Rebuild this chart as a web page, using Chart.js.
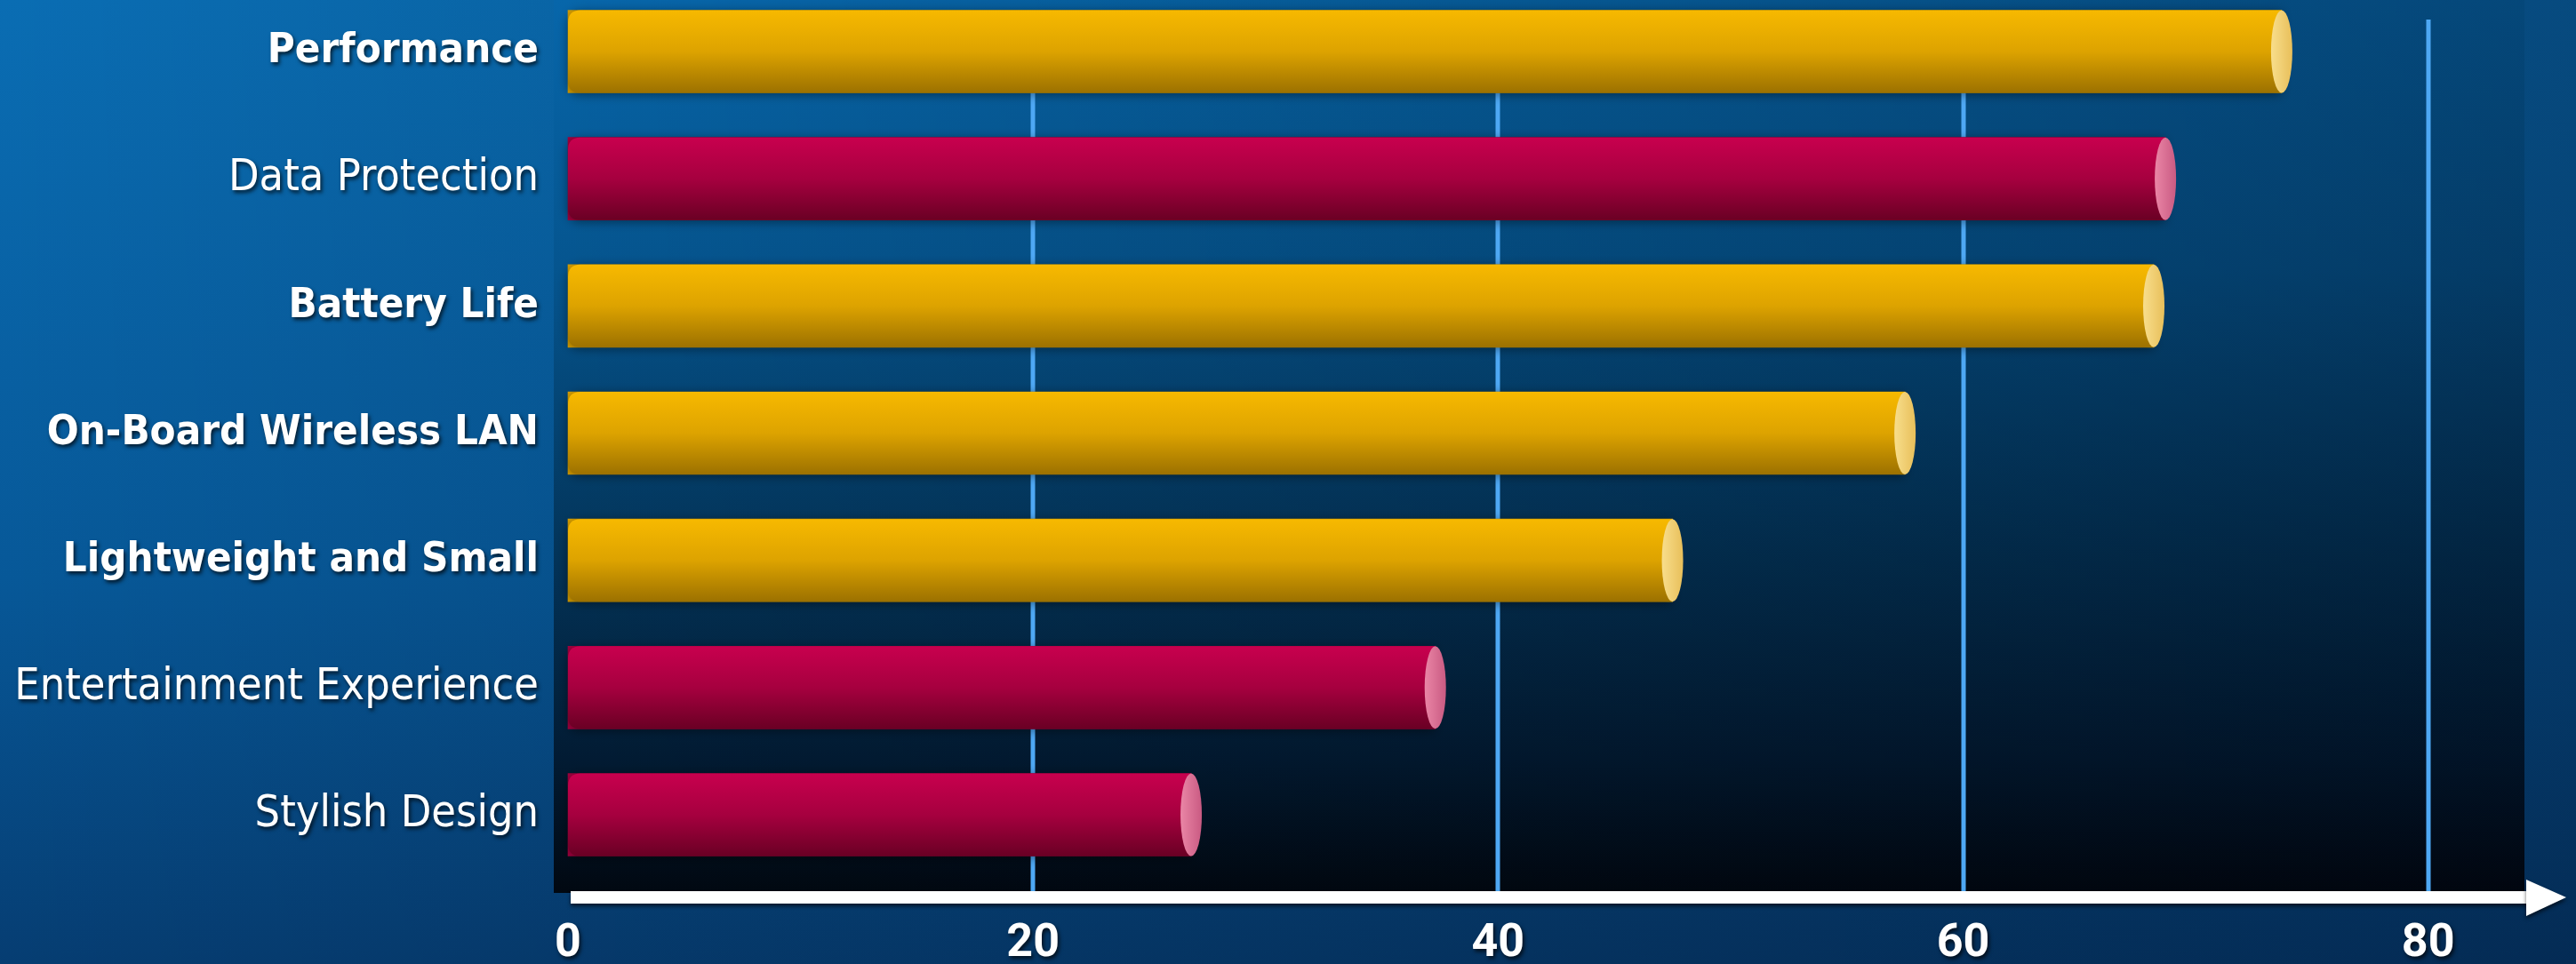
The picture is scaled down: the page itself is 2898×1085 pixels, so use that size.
<!DOCTYPE html>
<html>
<head>
<meta charset="utf-8">
<script src="https://cdn.jsdelivr.net/npm/chart.js@4.4.1/dist/chart.umd.min.js"></script>
<style>
  html, body { margin: 0; padding: 0; background: #0a5a98; }
  #wrap { width: 2898px; height: 1085px; }
</style>
</head>
<body>
<div id="wrap"><canvas id="c" width="2898" height="1085"></canvas></div>
<script>
// ---- data ----
const categories = ['Performance', 'Data Protection', 'Battery Life', 'On-Board Wireless LAN',
                    'Lightweight and Small', 'Entertainment Experience', 'Stylish Design'];
const scores = [73.7, 68.7, 68.2, 57.5, 47.5, 37.3, 26.8];
const highlighted = [true, false, true, true, true, false, false];
const xTickValues = [0, 20, 40, 60, 80];
const xMax = 84.14;

// ---- styles ----
const LABEL_FONT = '"DejaVu Sans Condensed", "Liberation Sans Narrow", Roboto, sans-serif';
const GOLD = { top: '#f7b900', mid: '#dda300', bot: '#9c7100', cap1: '#f8de8c', cap2: '#e8bf5a' };
const RED  = { top: '#c8004e', mid: '#a6003f', bot: '#6a0024', cap1: '#ea86a6', cap2: '#c95a82' };

const bgPlugin = {
  id: 'bg',
  beforeDraw(chart) {
    const ctx = chart.ctx, W = chart.width, H = chart.height;
    ctx.save();
    let g = ctx.createLinearGradient(0, 0, 0, H);
    g.addColorStop(0, '#0a6db3');
    g.addColorStop(0.6, '#075898');
    g.addColorStop(1, '#063d72');
    ctx.fillStyle = g;
    ctx.fillRect(0, 0, W, H);
    let gh = ctx.createLinearGradient(0, 0, W, 0);
    gh.addColorStop(0, 'rgba(0,0,0,0)');
    gh.addColorStop(1, 'rgba(0,10,30,0.35)');
    ctx.fillStyle = gh;
    ctx.fillRect(0, 0, W, H);
    // plot panel
    const px0 = 623, px1 = 2840, py1 = 1005;
    let gp = ctx.createLinearGradient(0, 0, 0, py1);
    gp.addColorStop(0, '#0766aa');
    gp.addColorStop(0.3, '#05558f');
    gp.addColorStop(0.62, '#033459');
    gp.addColorStop(0.85, '#021b33');
    gp.addColorStop(1, '#010811');
    ctx.fillStyle = gp;
    ctx.fillRect(px0, 0, px1 - px0, py1);
    let gph = ctx.createLinearGradient(px0, 0, px1, 0);
    gph.addColorStop(0, 'rgba(0,0,0,0)');
    gph.addColorStop(1, 'rgba(0,0,10,0.3)');
    ctx.fillStyle = gph;
    ctx.fillRect(px0, 0, px1 - px0, py1);
    ctx.restore();
    // text shadow for the axis labels drawn next
    ctx.shadowColor = 'rgba(0,0,0,0.7)';
    ctx.shadowOffsetX = 2;
    ctx.shadowOffsetY = 3;
    ctx.shadowBlur = 4;
  },
  beforeDatasetsDraw(chart) {
    const ctx = chart.ctx;
    ctx.shadowColor = 'rgba(0,0,0,0)';
    ctx.shadowOffsetX = 0; ctx.shadowOffsetY = 0; ctx.shadowBlur = 0;
    const xs = chart.scales.x;
    ctx.save();
    ctx.strokeStyle = '#4ea8f4';
    ctx.lineWidth = 5;
    xTickValues.forEach(v => {
      if (v === 0) return;
      const x = Math.round(xs.getPixelForValue(v));
      ctx.beginPath();
      ctx.moveTo(x, 22);
      ctx.lineTo(x, 1004);
      ctx.stroke();
    });
    // axis arrow
    const x0 = xs.getPixelForValue(0) + 3;
    ctx.shadowColor = 'rgba(0,0,0,0.6)';
    ctx.shadowOffsetY = 3; ctx.shadowBlur = 4;
    ctx.fillStyle = '#ffffff';
    ctx.fillRect(x0, 1003, 2844 - x0, 14);
    ctx.beginPath();
    ctx.moveTo(2842, 990);
    ctx.lineTo(2887, 1010);
    ctx.lineTo(2842, 1031);
    ctx.closePath();
    ctx.fill();
    ctx.restore();
  },
  afterDatasetsDraw(chart) {
    const ctx = chart.ctx;
    const meta = chart.getDatasetMeta(0);
    meta.data.forEach((el, i) => {
      const c = highlighted[i] ? GOLD : RED;
      const p = el.getProps(['x', 'y', 'base', 'height'], true);
      const x0 = p.base, x1 = p.x, h = p.height, y0 = p.y - h / 2, y1 = p.y + h / 2;
      const r = 14, rx = 12;
      ctx.save();
      ctx.shadowColor = 'rgba(0,0,0,0.45)';
      ctx.shadowBlur = 12;
      ctx.shadowOffsetY = 2;
      const g = ctx.createLinearGradient(0, y0, 0, y1);
      g.addColorStop(0, c.top);
      g.addColorStop(0.5, c.mid);
      g.addColorStop(1, c.bot);
      ctx.fillStyle = g;
      ctx.beginPath();
      ctx.moveTo(x1, y0);
      ctx.lineTo(x0 + r, y0);
      ctx.quadraticCurveTo(x0, y0, x0, y0 + r);
      ctx.lineTo(x0, y1 - r);
      ctx.quadraticCurveTo(x0, y1, x0 + r, y1);
      ctx.lineTo(x1, y1);
      ctx.closePath();
      ctx.fill();
      ctx.shadowColor = 'rgba(0,0,0,0)';
      ctx.shadowBlur = 0;
      const gc = ctx.createLinearGradient(x1 - rx, 0, x1 + rx, 0);
      gc.addColorStop(0, c.cap1);
      gc.addColorStop(1, c.cap2);
      ctx.fillStyle = gc;
      ctx.beginPath();
      ctx.ellipse(x1, p.y, rx, h / 2, 0, 0, Math.PI * 2);
      ctx.fill();
      ctx.restore();
    });
  }
};

new Chart(document.getElementById('c'), {
  type: 'bar',
  data: {
    labels: categories,
    datasets: [{
      label: 'Score',
      data: scores,
      backgroundColor: scores.map((_, i) => highlighted[i] ? GOLD.mid : RED.mid),
      borderWidth: 0,
      barThickness: 93,
      clip: false
    }]
  },
  options: {
    indexAxis: 'y',
    responsive: false,
    animation: false,
    devicePixelRatio: 1,
    layout: { padding: { top: 58, right: 58, bottom: 0, left: 0 } },
    plugins: { legend: { display: false }, tooltip: { enabled: false } },
    scales: {
      y: {
        type: 'category',
        offset: false,
        grid: { display: false, drawTicks: false },
        border: { display: false },
        afterFit(s) { s.width = 639; },
        ticks: {
          color: '#ffffff',
          padding: 33,
          font: (ctx) => ({
            family: LABEL_FONT,
            size: highlighted[ctx.index] ? 47 : 50,
            weight: highlighted[ctx.index] ? 'bold' : 'normal',
            lineHeight: 0.9
          })
        }
      },
      x: {
        type: 'linear',
        min: 0,
        max: xMax,
        grid: { display: false, drawTicks: false },
        border: { display: false },
        afterFit(s) { s.height = 168; },
        afterBuildTicks(s) { s.ticks = xTickValues.map(v => ({ value: v })); },
        ticks: {
          color: '#ffffff',
          padding: 115,
          maxRotation: 0,
          autoSkip: false,
          font: { family: 'Roboto, "DejaVu Sans", sans-serif', size: 52, weight: 'bold' }
        }
      }
    }
  },
  plugins: [bgPlugin]
});
</script>
</body>
</html>
